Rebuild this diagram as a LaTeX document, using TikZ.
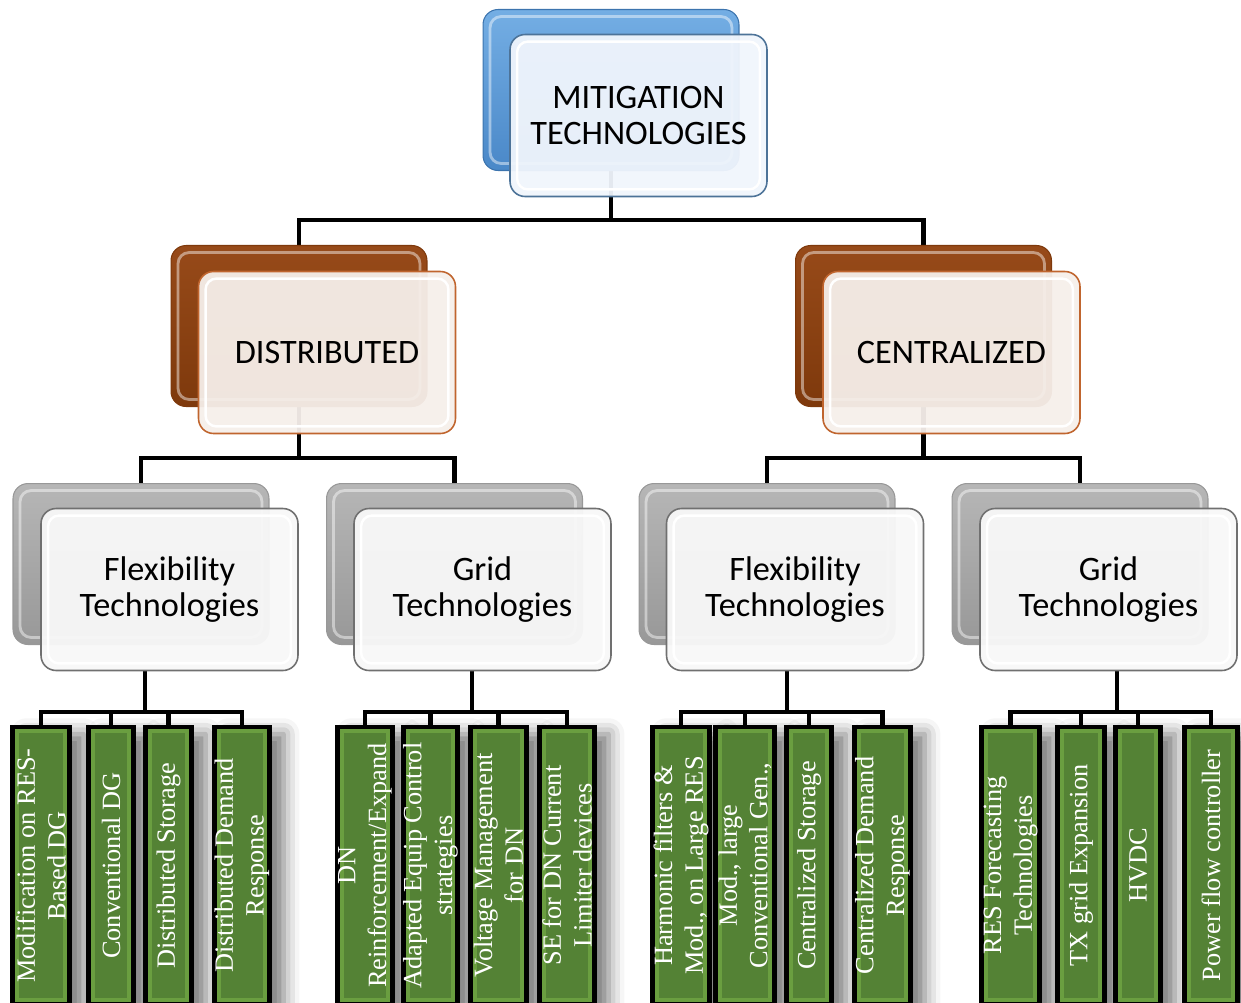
\documentclass[tikz,border=0pt]{standalone}
\usepackage{fontspec}
\setmainfont{Liberation Serif}
\newfontfamily\calib{Carlito}
\usetikzlibrary{shadows.blur,backgrounds}

\definecolor{bluetop}{HTML}{74AEE4}
\definecolor{bluebot}{HTML}{4A88C8}
\definecolor{blueline}{HTML}{3C74AE}
\definecolor{bluefill}{HTML}{F0F5FC}
\definecolor{bluefront}{HTML}{4D7398}
\definecolor{browntop}{HTML}{974A19}
\definecolor{brownbot}{HTML}{7E390C}
\definecolor{brownfill}{HTML}{F6EFEA}
\definecolor{brownfront}{HTML}{C0652E}
\definecolor{greytop}{HTML}{B6B6B6}
\definecolor{greybot}{HTML}{989898}
\definecolor{greyfill}{HTML}{F8F8F8}
\definecolor{greyfront}{HTML}{707070}
\definecolor{leafgreen}{HTML}{548235}
\definecolor{leafbevel}{HTML}{6A9E40}

\begin{document}
\begin{tikzpicture}[x=0.02cm, y=-0.02cm,
  conn/.style={line width=2.4pt, black},
  backbox/.style={rounded corners=0.3cm, minimum width=5.12cm, minimum height=3.22cm, line width=.6pt,
    path picture={\draw[white, opacity=.45, line width=1.6pt, rounded corners=0.22cm]
      ([shift={(4pt,-4pt)}]path picture bounding box.north west) rectangle
      ([shift={(-4pt,4pt)}]path picture bounding box.south east);}},
  frontbox/.style={rounded corners=0.3cm, minimum width=5.14cm, minimum height=3.24cm, line width=.9pt,
    fill opacity=.95, text opacity=1, align=center, font=\calib\fontsize{19.5}{21}\selectfont,
    path picture={\draw[white, line width=1.4pt, rounded corners=0.22cm]
      ([shift={(4pt,-4pt)}]path picture bounding box.north west) rectangle
      ([shift={(-4pt,4pt)}]path picture bounding box.south east);}},
  blueback/.style={backbox, top color=bluetop, bottom color=bluebot, draw=blueline},
  brownback/.style={backbox, top color=browntop, bottom color=brownbot, draw=brownbot},
  greyback/.style={backbox, top color=greytop, bottom color=greybot, draw=greybot},
  bluebox/.style={frontbox, fill=bluefill, draw=bluefront},
  brownbox/.style={frontbox, fill=brownfill, draw=brownfront},
  greybox/.style={frontbox, fill=greyfill, draw=greyfront},
  leaf/.style={draw=black, line width=2.6pt, fill=leafbevel, minimum height=5.54cm, minimum width=#1*0.02cm, inner sep=0pt,
    blur shadow={shadow xshift=8pt, shadow yshift=-4pt, shadow blur radius=9pt, shadow opacity=55},
    path picture={\fill[leafgreen] ([shift={(3.5pt,-3.5pt)}]path picture bounding box.north west) rectangle
      ([shift={(-3.5pt,3.5pt)}]path picture bounding box.south east);}},
  leaftext/.style={rotate=90, text=white, align=center, font=\fontsize{15}{17.5}\selectfont}]

\useasboundingbox (0,0) rectangle (1241,1002);
\clip (0,0) rectangle (1241,1002);

% top
\node[blueback] (mitback) at (611,90) {};
% level 2
\node[brownback] (distback) at (299,326) {};
\node[brownback] (centback) at (923.5,326) {};
% level 3
\node[greyback] (fdback) at (141,564) {};
\node[greyback] (gdback) at (454.5,564) {};
\node[greyback] (fcback) at (767,564) {};
\node[greyback] (gcback) at (1080,564) {};

\node[bluebox] (mitfront) at (638.5,115.5) {MITIGATION\\TECHNOLOGIES};
\node[brownbox] (distfront) at (327,352.5) {DISTRIBUTED};
\node[brownbox] (centfront) at (951.5,352.5) {CENTRALIZED};
\node[greybox] (fdfront) at (169.5,589.5) {Flexibility\\Technologies};
\node[greybox] (gdfront) at (482.5,589.5) {Grid\\Technologies};
\node[greybox] (fcfront) at (795,589.5) {Flexibility\\Technologies};
\node[greybox] (gcfront) at (1108.5,589.5) {Grid\\Technologies};

% leaves, distributed
\node[leaf=57] (fd1) at (41,865.5) {};
\node[leaf=45] (fd2) at (111,865.5) {};
\node[leaf=46] (fd3) at (168.5,865.5) {};
\node[leaf=55] (fd4) at (242,865.5) {};
\node[leaf=55] (gd1) at (365,865.5) {};
\node[leaf=54] (gd2) at (430.5,865.5) {};
\node[leaf=56] (gd3) at (498.5,865.5) {};
\node[leaf=55] (gd4) at (567,865.5) {};
% leaves, centralized
\node[leaf=57] (fc1) at (681,865.5) {};
\node[leaf=59] (fc2) at (745,865.5) {};
\node[leaf=45] (fc3) at (809,865.5) {};
\node[leaf=56] (fc4) at (882.5,865.5) {};
\node[leaf=58] (gc1) at (1010.5,865.5) {};
\node[leaf=47] (gc2) at (1081,865.5) {};
\node[leaf=45] (gc3) at (1138,865.5) {};
\node[leaf=53] (gc4) at (1211,865.5) {};

\node[leaftext] (fd1t) at (fd1) {Modification on RES-\\Based DG};
\node[leaftext] (fd2t) at (fd2) {Conventional DG};
\node[leaftext] (fd3t) at (fd3) {Distributed Storage};
\node[leaftext] (fd4t) at (fd4) {Distributed Demand\\Response};
\node[leaftext] (gd1t) at (gd1) {DN\\Reinforcement/Expand};
\node[leaftext] (gd2t) at (gd2) {Adapted Equip Control\\strategies};
\node[leaftext] (gd3t) at (gd3) {Voltage Management\\for DN};
\node[leaftext] (gd4t) at (gd4) {SE for DN Current\\Limiter devices};
\node[leaftext] (fc1t) at (fc1) {Harmonic filters \&\\Mod., on Large RES};
\node[leaftext] (fc2t) at (fc2) {Mod., large\\Conventional Gen.,};
\node[leaftext] (fc3t) at (fc3) {Centralized Storage};
\node[leaftext] (fc4t) at (fc4) {Centralized Demand\\Response};
\node[leaftext] (gc1t) at (gc1) {RES Forecasting\\Technologies};
\node[leaftext] (gc2t) at (gc2) {TX grid Expansion};
\node[leaftext] (gc3t) at (gc3) {HVDC};
\node[leaftext] (gc4t) at (gc4) {Power flow controller};

\coordinate (topbus) at (611,220);
\coordinate (distbus) at (299,458);
\coordinate (centbus) at (923.5,458);
\coordinate (fdbus) at (145,712);
\coordinate (gdbus) at (472,712);
\coordinate (fcbus) at (787,712);
\coordinate (gcbus) at (1117,712);

\begin{pgfonlayer}{background}
\draw[conn] (mitback.south) -- (topbus);
\draw[conn] (topbus) -| (distback.north);
\draw[conn] (topbus) -| (centback.north);
\draw[conn] (distback.south) -- (distbus);
\draw[conn] (distbus) -| (fdback.north);
\draw[conn] (distbus) -| (gdback.north);
\draw[conn] (centback.south) -- (centbus);
\draw[conn] (centbus) -| (fcback.north);
\draw[conn] (centbus) -| (gcback.north);
% to the leaves
\foreach \grp in {fd,gd,fc,gc} {
  \draw[conn] (\grp front.south -| \grp bus) -- (\grp bus);
  \foreach \i in {1,...,4}
    \draw[conn] (\grp\i.north) |- (\grp bus);
}
\end{pgfonlayer}
\end{tikzpicture}
\end{document}
